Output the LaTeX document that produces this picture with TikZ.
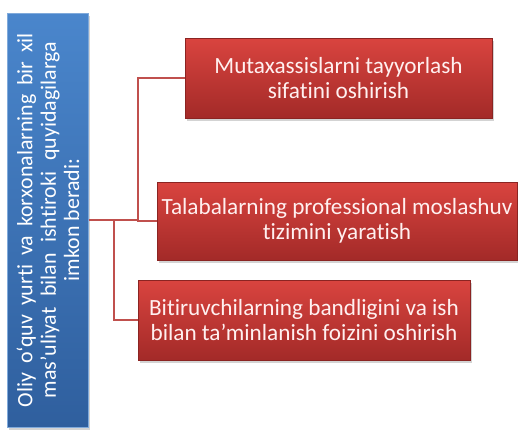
\documentclass[tikz,border=0pt]{standalone}
\usepackage{fontspec}
\setmainfont{Carlito}[Ligatures=NoCommon]
\usetikzlibrary{shadows}
\definecolor{lnred}{HTML}{C0504D}
\definecolor{rtop}{HTML}{D9443F}
\definecolor{rbot}{HTML}{A32A28}
\definecolor{btop}{HTML}{4A86CC}
\definecolor{bbot}{HTML}{2F5F9E}
\definecolor{txt}{HTML}{FFF0F0}
\newcommand{\jline}[2]{\makebox[#1bp][s]{#2}}
\tikzset{
  redbox/.style={rectangle, draw=rbot!85!black, line width=0.6bp, top color=rtop, bottom color=rbot,
    text=txt, align=center, inner sep=0pt, font=\fontsize{23.3}{25}\selectfont,
    drop shadow={opacity=0.35, shadow xshift=1.5bp, shadow yshift=-2.5bp}},
  bluebox/.style={rectangle, draw=btop!70!white, line width=1bp, top color=btop, bottom color=bbot,
    text=white, align=center, inner sep=0pt, font=\fontsize{22}{23.5}\selectfont,
    drop shadow={opacity=0.35, shadow xshift=1.5bp, shadow yshift=-2.5bp}},
  conn/.style={draw=lnred, line width=2.5bp}
}
\begin{document}
\begin{tikzpicture}[x=1bp,y=-1bp]
\useasboundingbox (0,0) rectangle (518,429);
\node[bluebox, minimum width=414bp, minimum height=80bp, rotate=90] (blue) at (48,220)
  {\jline{374}{Oliy o‘quv yurti va korxonalarning bir xil}\\\jline{356}{mas’uliyat bilan ishtiroki quyidagilarga}\\imkon beradi:};
\node[redbox, minimum width=307bp, minimum height=80bp] (b1) at (338.5,78)
  {Mutaxassislarni tayyorlash\\sifatini oshirish};
\node[redbox, minimum width=360bp, minimum height=78bp] (b2) at (337,221)
  {Talabalarning professional moslashuv\\tizimini yaratish};
\node[redbox, minimum width=332bp, minimum height=80bp] (b3) at (304,320)
  {Bitiruvchilarning bandligini va ish\\bilan ta’minlanish foizini oshirish};
\coordinate (j1) at (138,220);
\coordinate (j2) at (114,220);
\draw[conn] (blue.south) -- (j1);
\draw[conn] (b1.west) -| (j1 |- b2.west) -- (b2.west);
\draw[conn] (b3.west) -| (j2);
\end{tikzpicture}
\end{document}
